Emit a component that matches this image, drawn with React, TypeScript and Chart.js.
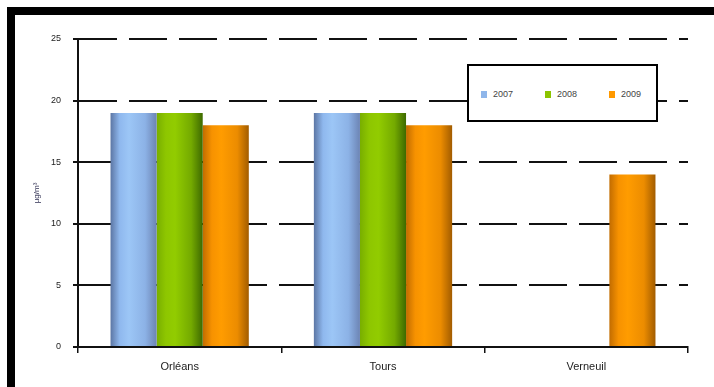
import React, { useEffect, useRef } from 'react';
import { Chart, registerables } from 'chart.js';

Chart.register(...registerables);

const categories = ['Orléans', 'Tours', 'Verneuil'];
const seriesNames = ['2007', '2008', '2009'];
const values2007: (number | null)[] = [19, 19, null];
const values2008: (number | null)[] = [19, 19, null];
const values2009: (number | null)[] = [18, 18, 14];
const yMin = 0;
const yMax = 25;
const yStep = 5;
const yTitle = 'µg/m³';

const seriesValues = [values2007, values2008, values2009];

const palettes = [
  { flat: '#8fb6ea', stops: ['#5c76a4', '#8fb8ee', '#9cc6f6', '#8cb2e6', '#6c84b4'] },
  { flat: '#8cc400', stops: ['#78ae00', '#8ec600', '#92cc00', '#74aa00', '#3e6a00'] },
  { flat: '#ff9900', stops: ['#c26c00', '#f79200', '#ff9c00', '#ec8c00', '#a25c00'] },
];

const CAT_PCT = 0.68;

function makeBg(di: number) {
  return (ctx: any) => {
    const p = palettes[di];
    if (ctx.type !== 'data') return p.flat;
    const chart = ctx.chart;
    const xs = chart.scales && chart.scales.x;
    if (!xs || !chart.chartArea) return p.flat;
    const catW = (xs.right - xs.left) / categories.length;
    const barW = (catW * CAT_PCT) / seriesNames.length;
    const c = xs.getPixelForValue(ctx.dataIndex) + (di - (seriesNames.length - 1) / 2) * barW;
    const g = chart.ctx.createLinearGradient(c - barW / 2, 0, c + barW / 2, 0);
    const s = p.stops;
    g.addColorStop(0, s[0]);
    g.addColorStop(0.2, s[1]);
    g.addColorStop(0.4, s[2]);
    g.addColorStop(0.75, s[3]);
    g.addColorStop(1, s[4]);
    return g;
  };
}

const FONT = "'Liberation Sans', Arial, sans-serif";

export default function App() {
  const canvasRef = useRef<HTMLCanvasElement | null>(null);

  useEffect(() => {
    if (!canvasRef.current) return;
    const chart = new Chart(canvasRef.current, {
      type: 'bar',
      data: {
        labels: categories,
        datasets: seriesNames.map((name, i) => ({
          label: name,
          data: seriesValues[i],
          backgroundColor: makeBg(i),
          borderWidth: 0,
          barPercentage: 1,
          categoryPercentage: CAT_PCT,
        })),
      },
      options: {
        animation: false,
        responsive: false,
        maintainAspectRatio: false,
        layout: { padding: { left: 0, top: 39, right: 26, bottom: 0 } },
        plugins: {
          legend: { display: false },
          tooltip: { enabled: false },
        },
        scales: {
          x: {
            afterFit: (scale: any) => {
              scale.height = 40;
            },
            grid: {
              display: true,
              drawOnChartArea: false,
              offset: true,
              tickLength: 6,
              color: '#111',
              lineWidth: 1.5,
            },
            border: { display: true, color: '#111', width: 2 },
            ticks: {
              color: '#222',
              padding: 7,
              font: { family: FONT, size: 11 },
            },
          },
          y: {
            min: yMin,
            max: yMax,
            afterFit: (scale: any) => {
              scale.width = 78;
            },
            grid: {
              color: '#111',
              lineWidth: 2,
              tickLength: 5,
              tickBorderDash: [],
            },
            border: { display: true, color: '#111', width: 2, dash: [38, 12] },
            ticks: {
              stepSize: yStep,
              color: '#222',
              padding: 12,
              font: { family: FONT, size: 9 },
            },
            title: {
              display: true,
              text: yTitle,
              color: '#335',
              padding: { top: 32, bottom: 0 },
              font: { family: FONT, size: 8 },
            },
          },
        },
      } as any,
    });
    return () => chart.destroy();
  }, []);

  const legendLeft = [12, 76, 140];

  return (
    <div
      style={{
        position: 'fixed',
        left: 0,
        top: 0,
        width: 714,
        height: 387,
        background: '#fff',
        overflow: 'hidden',
      }}
    >
      <canvas
        ref={canvasRef}
        width={714}
        height={387}
        style={{ position: 'absolute', left: 0, top: 0, width: 714, height: 387 }}
      />
      <div
        style={{
          position: 'absolute',
          left: 467,
          top: 64,
          width: 191,
          height: 58,
          boxSizing: 'border-box',
          border: '2px solid #000',
          background: '#fff',
        }}
      >
        {seriesNames.map((name, i) => (
          <div
            key={name}
            style={{
              position: 'absolute',
              left: legendLeft[i],
              top: 22,
              height: 12,
              display: 'flex',
              alignItems: 'center',
              fontFamily: FONT,
              fontSize: 9,
              color: '#444',
              whiteSpace: 'nowrap',
            }}
          >
            <span
              style={{
                display: 'inline-block',
                width: 6,
                height: 7,
                marginRight: 6,
                background: palettes[i].flat,
              }}
            />
            {name}
          </div>
        ))}
      </div>
      <div style={{ position: 'absolute', left: 7, top: 7, width: 707, height: 8, background: '#000' }} />
      <div style={{ position: 'absolute', left: 7, top: 7, width: 8, height: 380, background: '#000' }} />
    </div>
  );
}
